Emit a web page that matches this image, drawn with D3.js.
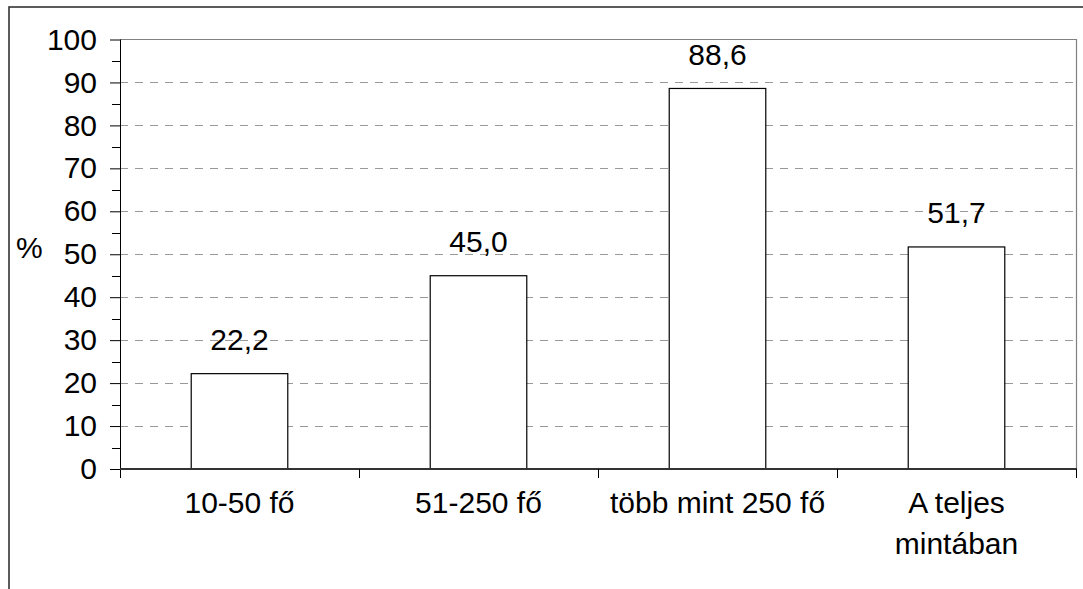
<!DOCTYPE html>
<html>
<head>
<meta charset="utf-8">
<script src="https://cdn.jsdelivr.net/npm/d3@7"></script>
<style>
  html, body { margin: 0; padding: 0; background: #fff; }
  svg { display: block; }
  text { font-family: "Liberation Sans", Arial, sans-serif; fill: #000; }
</style>
</head>
<body>
<svg id="chart" width="1083" height="589"></svg>
<script>
// Share of companies by size group (%)
const categories = [["10-50 fő"], ["51-250 fő"], ["több mint 250 fő"], ["A teljes", "mintában"]];
const values = [22.2, 45.0, 88.6, 51.7];
const valueLabels = ["22,2", "45,0", "88,6", "51,7"];
const yTicks = [0, 10, 20, 30, 40, 50, 60, 70, 80, 90, 100];
const yMinorTicks = [5, 15, 25, 35, 45, 55, 65, 75, 85, 95];
const yAxisTitle = "%";

const svg = d3.select("#chart");
const W = 1083, H = 589;
const plot = { left: 120, right: 1076, top: 39.5, bottom: 469 };
const fontSize = 30;

// outer frame (extends past the right and bottom edges)
svg.append("rect")
  .attr("x", 9).attr("y", 7)
  .attr("width", W + 20).attr("height", H + 20)
  .attr("fill", "#fff").attr("stroke", "#333").attr("stroke-width", 1.6);

const x = d3.scaleBand().domain(d3.range(categories.length))
  .range([plot.left, plot.right]).paddingInner(0).paddingOuter(0);
const y = d3.scaleLinear().domain([0, 100]).range([plot.bottom, plot.top]);

// dashed gridlines
svg.append("g").selectAll("line")
  .data(yTicks.filter(d => d > 0 && d < 100))
  .join("line")
  .attr("x1", plot.left).attr("x2", plot.right)
  .attr("y1", d => Math.round(y(d)) + 0.5).attr("y2", d => Math.round(y(d)) + 0.5)
  .attr("stroke", "#999").attr("stroke-width", 1).attr("stroke-dasharray", "8,7");

// plot area top and right border
svg.append("path")
  .attr("d", `M${plot.left},${plot.top}H${plot.right + 0.5}V${plot.bottom}`)
  .attr("fill", "none").attr("stroke", "#808080").attr("stroke-width", 1.2);

// bars
const barW = x.bandwidth() * 0.404;
svg.append("g").selectAll("rect")
  .data(values)
  .join("rect")
  .attr("x", (d, i) => x(i) + (x.bandwidth() - barW) / 2)
  .attr("y", d => y(d))
  .attr("width", barW)
  .attr("height", d => y(0) - y(d))
  .attr("fill", "#fff").attr("stroke", "#000").attr("stroke-width", 1.2);

// value labels
svg.append("g").selectAll("text")
  .data(values)
  .join("text")
  .attr("x", (d, i) => x(i) + x.bandwidth() / 2)
  .attr("y", d => y(d) - 23.5)
  .attr("text-anchor", "middle")
  .attr("font-size", fontSize)
  .text((d, i) => valueLabels[i]);

// y axis
const yAxis = d3.axisLeft(y).tickValues(yTicks).tickSize(10).tickPadding(13).tickFormat(d3.format("d"));
const gy = svg.append("g").attr("transform", `translate(${plot.left},0)`).call(yAxis);
gy.select(".domain").remove();
gy.selectAll(".tick line").attr("stroke", "#000");
gy.selectAll(".tick text").attr("font-size", fontSize).attr("font-family", "Liberation Sans, Arial, sans-serif").attr("fill", "#000");
svg.append("g").selectAll("line")
  .data(yMinorTicks)
  .join("line")
  .attr("x1", plot.left - 8).attr("x2", plot.left)
  .attr("y1", d => Math.round(y(d)) + 0.5).attr("y2", d => Math.round(y(d)) + 0.5)
  .attr("stroke", "#000");
svg.append("line")
  .attr("x1", plot.left + 0.5).attr("x2", plot.left + 0.5)
  .attr("y1", plot.top).attr("y2", plot.bottom + 9)
  .attr("stroke", "#000");

// x axis line and category boundary ticks
svg.append("line")
  .attr("x1", plot.left).attr("x2", plot.right + 1)
  .attr("y1", plot.bottom).attr("y2", plot.bottom)
  .attr("stroke", "#333").attr("stroke-width", 2);
svg.append("g").selectAll("line")
  .data(d3.range(1, categories.length + 1))
  .join("line")
  .attr("x1", i => x.step() * i + plot.left + 0.5).attr("x2", i => x.step() * i + plot.left + 0.5)
  .attr("y1", plot.bottom).attr("y2", plot.bottom + 9)
  .attr("stroke", "#000");

// category labels
const cat = svg.append("g").selectAll("text")
  .data(categories)
  .join("text")
  .attr("text-anchor", "middle")
  .attr("font-size", fontSize)
  .attr("x", (d, i) => x(i) + x.bandwidth() / 2)
  .attr("y", 512.5);
cat.selectAll("tspan")
  .data(d => d)
  .join("tspan")
  .attr("x", function () { return this.parentNode.getAttribute("x"); })
  .attr("dy", (d, j) => j === 0 ? 0 : 41)
  .text(d => d);

// y axis title
svg.append("text")
  .attr("x", 16).attr("y", 258)
  .attr("font-size", fontSize)
  .text(yAxisTitle);
</script>
</body>
</html>
